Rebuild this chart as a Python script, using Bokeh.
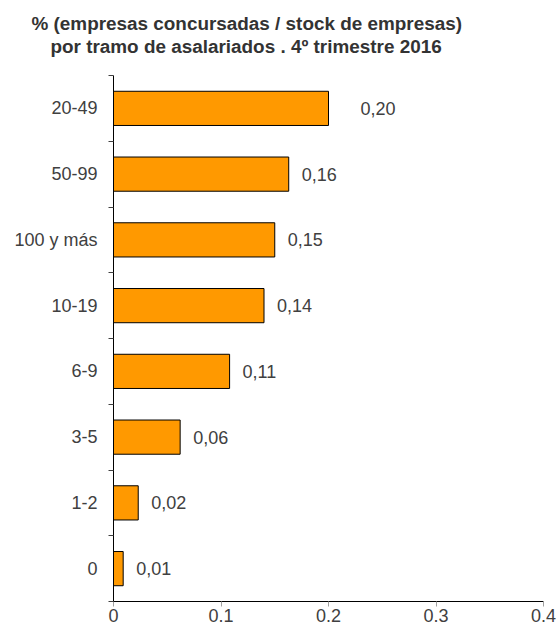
from bokeh.plotting import figure
from bokeh.models import Range1d, FixedTicker, Title, ColumnDataSource
from bokeh.core.properties import value
from bokeh.embed import file_html
from bokeh.resources import INLINE

categories = ["20-49", "50-99", "100 y más", "10-19", "6-9", "3-5", "1-2", "0"]
values = [0.200, 0.163, 0.150, 0.140, 0.108, 0.062, 0.023, 0.009]
value_labels = ["0,20", "0,16", "0,15", "0,14", "0,11", "0,06", "0,02", "0,01"]
label_offsets = [32, 13, 13, 13, 13, 13, 13, 13]
x_ticks = [0, 0.1, 0.2, 0.3, 0.4]
x_tick_labels = ["0", "0.1", "0.2", "0.3", "0.4"]
title_lines = ["% (empresas concursadas / stock de empresas)",
               "por tramo de asalariados . 4º trimestre 2016"]
title_offsets = [-82, -63]

n = len(categories)
ypos = [n - 1 - i + 0.5 for i in range(n)]

src = ColumnDataSource(dict(y=ypos, v=values, lab=value_labels, off=label_offsets, cat=categories))

FONT = "Liberation Sans"
p = figure(width=560, height=628, output_backend="svg", toolbar_location=None,
           x_range=Range1d(0, 0.4), y_range=Range1d(0, n),
           min_border_left=113, min_border_right=17, min_border_top=75, min_border_bottom=27)
p.outline_line_color = None
p.xgrid.visible = False
p.ygrid.visible = False
p.background_fill_color = "white"

p.hbar(y="y", right="v", left=0, height=0.52, source=src,
       fill_color="#FF9900", line_color="black", line_width=1)
p.text(x="v", y="y", text="lab", x_offset="off", source=src,
       text_font=value(FONT), text_font_size="18px", text_color="#404040",
       text_align="left", text_baseline="middle")

xa = p.xaxis[0]
xa.ticker = FixedTicker(ticks=x_ticks, minor_ticks=[])
xa.axis_line_color = "black"
xa.major_tick_line_color = "#a0a0a0"
xa.major_tick_out = 5
xa.major_tick_in = 0
xa.minor_tick_line_color = None
xa.major_label_standoff = 2
xa.major_label_text_font = FONT
xa.major_label_text_font_size = "18px"
xa.major_label_text_color = "#404040"
xa.major_label_overrides = {t: l for t, l in zip(x_ticks, x_tick_labels)}

ya = p.yaxis[0]
ya.ticker = FixedTicker(ticks=ypos, minor_ticks=list(range(n + 1)))
ya.major_label_overrides = {y: c for y, c in zip(ypos, categories)}
ya.axis_line_color = "black"
ya.major_tick_line_color = None
ya.major_tick_out = 0
ya.major_tick_in = 0
ya.minor_tick_line_color = "#404040"
ya.minor_tick_out = 5
ya.minor_tick_in = 0
ya.major_label_standoff = 11
ya.major_label_text_font = FONT
ya.major_label_text_font_size = "18px"
ya.major_label_text_color = "#404040"

# spacer between the title and the plot area
p.add_layout(Title(text=" ", standoff=0, text_font=FONT, text_font_size="16px"), "above")
# add the lower line first so that it sits closest to the plot
for t, off in reversed(list(zip(title_lines, title_offsets))):
    p.add_layout(Title(text=t, align="left", offset=off, standoff=0,
                       text_font=FONT, text_font_style="bold", text_font_size="18.9px",
                       text_color="#333333"), "above")

open("out.html", "w").write(file_html(p, INLINE))
